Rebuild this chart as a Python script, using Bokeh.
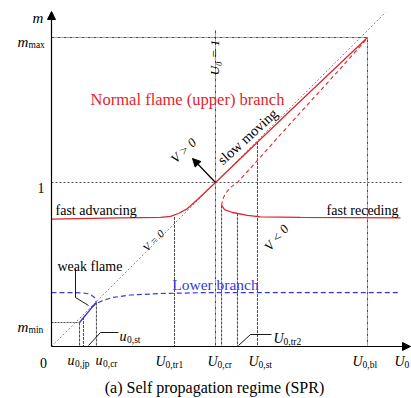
from bokeh.plotting import figure
from bokeh.models import Arrow, NormalHead, Range1d, Label
from bokeh.embed import file_html
from bokeh.resources import INLINE

# ---------------- data (U0 and m in units where the crossing is U0 = 1, m = 1) -------------
U0_jp, U0_jp2, u0_st, u0_cr = 0.171, 0.195, 0.226, 0.274
U0_tr1, U0_one, U0_cr, U0_tr2, U0_st, U0_bl = 0.750, 1.0, 1.037, 1.134, 1.256, 1.927
m_max, m_min, m_one, m_lower = 1.884, 0.146, 1.0, 0.329

# normal flame (upper) branch, fast advancing -> slow moving
upper_U = [0.0, 0.42, 0.665, 0.726, 0.774, 0.829, 0.890, 1.0, 1.457, 1.927]
upper_m = [0.777, 0.784, 0.787, 0.793, 0.811, 0.841, 0.896, 1.0, 1.439, 1.884]
# receding part: unstable (dashed) and stable (solid)
rec_dash_U = [1.037, 1.043, 1.061, 1.091, 1.134, 1.274, 1.457, 1.701, 1.915]
rec_dash_m = [0.860, 0.896, 0.933, 0.970, 1.0, 1.155, 1.360, 1.628, 1.866]
rec_solid_U = [1.037, 1.055, 1.104, 1.195, 1.274, 1.518, 2.128]
rec_solid_m = [0.860, 0.835, 0.817, 0.799, 0.790, 0.787, 0.784]
# lower branch
weak_dash_U = [0.0, 0.116, 0.201, 0.238, 0.262, 0.274]
weak_dash_m = [0.329, 0.329, 0.326, 0.317, 0.299, 0.268]
weak_solid_U = [0.171, 0.201, 0.232, 0.256, 0.274]
weak_solid_m = [0.146, 0.183, 0.220, 0.250, 0.268]
low_dash_U = [0.244, 0.274, 0.311, 0.372, 0.482, 0.665, 0.909, 1.213, 2.128]
low_dash_m = [0.238, 0.262, 0.280, 0.299, 0.314, 0.323, 0.328, 0.329, 0.329]
diag_end = 2.037

# vertical guide lines: (U, top m)
vguide_U = [U0_jp, U0_jp2, u0_cr, U0_tr1, U0_cr, U0_tr2, U0_st]
vguide_m = [m_min, 0.180, 0.268, 0.790, 0.860, 0.812, 1.246]

W, H = 411, 398
S = 164.0
X0, Y0 = 51, 346

p = figure(width=W, height=H, output_backend="svg", toolbar_location=None,
           x_range=Range1d(-X0 / S, (W - X0) / S), y_range=Range1d(-(H - Y0) / S, Y0 / S),
           x_axis_location=None, y_axis_location=None, min_border=0)
p.grid.visible = False
p.outline_line_color = None
p.background_fill_color = "white"
p.border_fill_color = "white"

FONT = "Liberation Serif"
RED = "#e0262e"
BLUE = "#3a3ad8"
GUIDE = "#333333"

# diagonal V = 0
p.line([0, diag_end], [0, diag_end], line_color="#8a8a8a", line_dash="2 2", line_width=1)

# guides
p.line([0, U0_bl, U0_bl], [m_max, m_max, 0], line_color=GUIDE, line_dash="3 1 1 1", line_width=0.9)
p.line([U0_one, U0_one], [1.927, 0], line_color=GUIDE, line_dash="3 1 1 1", line_width=0.9)
p.line([0, 2.14], [m_one, m_one], line_color="#555555", line_dash="2 2", line_width=1)
p.line([0, U0_jp], [m_min, m_min], line_color=GUIDE, line_dash="2 1", line_width=0.9)
p.multi_line([[u, u] for u in vguide_U], [[t, 0] for t in vguide_m],
             line_color=GUIDE, line_dash="3 1", line_width=0.9)

# red branches
p.line(upper_U, upper_m, line_color=RED, line_width=1.3)
p.line(rec_dash_U, rec_dash_m, line_color=RED, line_width=1.1, line_dash="4 3")
p.line(rec_solid_U, rec_solid_m, line_color=RED, line_width=1.3)
# blue branches
p.line(weak_dash_U, weak_dash_m, line_color=BLUE, line_width=1.2, line_dash="5 3")
p.line(weak_solid_U, weak_solid_m, line_color=BLUE, line_width=1.4)
p.line(low_dash_U, low_dash_m, line_color=BLUE, line_width=1.2, line_dash="5 3")


def sx(px):
    return (px - X0) / S


def sy(py):
    return (Y0 - py) / S


# axes with arrow heads
p.add_layout(Arrow(end=NormalHead(size=8, fill_color="black", line_color="black"),
                   x_start=0, y_start=0, x_end=sx(410), y_end=0, line_width=1.2))
p.add_layout(Arrow(end=NormalHead(size=8, fill_color="black", line_color="black"),
                   x_start=0, y_start=0, x_end=0, y_end=sy(11), line_width=1.2))
# V > 0 arrow
p.add_layout(Arrow(end=NormalHead(size=8, fill_color="black", line_color="black"),
                   x_start=U0_one, y_start=m_one, x_end=sx(192), y_end=sy(158), line_width=1.2))
# pointers
p.line([sx(75), sx(75), sx(88)], [sy(268), sy(297), sy(305)], line_color="black", line_width=0.9)
p.line([sx(118), sx(100), sx(88)], [sy(332), sy(332), sy(345)], line_color="black", line_width=0.9)
p.line([sx(271), sx(250), sx(238)], [sy(334), sy(334), sy(345)], line_color="black", line_width=0.9)


def lab(x, y, text, size=14, color="black", style="normal", align="left",
        baseline="alphabetic", angle=0.0):
    p.add_layout(Label(x=x, y=H - y, x_units="screen", y_units="screen", text=text,
                       text_font=FONT, text_font_size=f"{size}px", text_color=color,
                       text_font_style=style, text_align=align, text_baseline=baseline,
                       angle=angle))


def sub(x, y, main, s, mw, size=14, ssize=9.5, style="italic"):
    lab(x, y, main, size=size, style=style)
    lab(x + mw, y + 3, s, size=ssize)


# y labels
lab(32, 17, "m", size=15, style="italic")
sub(17, 41, "m", "max", 11, size=15)
lab(44, 187, "1", size=14, align="right")
sub(17, 326, "m", "min", 11, size=15)
lab(43, 362, "0", size=14, align="center")

# x labels
sub(67, 360, "u", "0,jp", 7.5)
sub(95, 360, "u", "0,cr", 7.5)
sub(119, 336, "u", "0,st", 7.5)
sub(155, 361, "U", "0,tr1", 10)
sub(207, 361, "U", "0,cr", 10)
sub(248, 361, "U", "0,st", 10)
sub(273, 338, "U", "0,tr2", 10)
sub(352, 361, "U", "0,bl", 10)
sub(394, 361, "U", "0", 10)

# annotations
lab(187, 99, "Normal flame (upper) branch", size=16.5, color=RED, align="center")
lab(55, 210, "fast advancing", size=14)
lab(398, 210, "fast receding", size=14, align="right")
lab(57, 266, "weak flame", size=14)
lab(215, 284, "Lower branch", size=15.5, color=BLUE, align="center")
lab(214, 387, "(a) Self propagation regime (SPR)", size=16, align="center")

lab(214, 57, "U\u2080 = 1", size=13, style="italic", align="center", baseline="middle", angle=1.5708)
lab(247, 136, "slow moving", size=14.5, align="center", baseline="middle", angle=0.74)
lab(183, 150, "V > 0", size=13, style="italic", align="center", baseline="middle", angle=0.77)
lab(153, 240, "V = 0", size=11, style="italic", align="center", baseline="middle", angle=0.80)
lab(276, 237, "V < 0", size=13, style="italic", align="center", baseline="middle", angle=0.87)

open("out.html", "w").write(file_html(p, INLINE))
